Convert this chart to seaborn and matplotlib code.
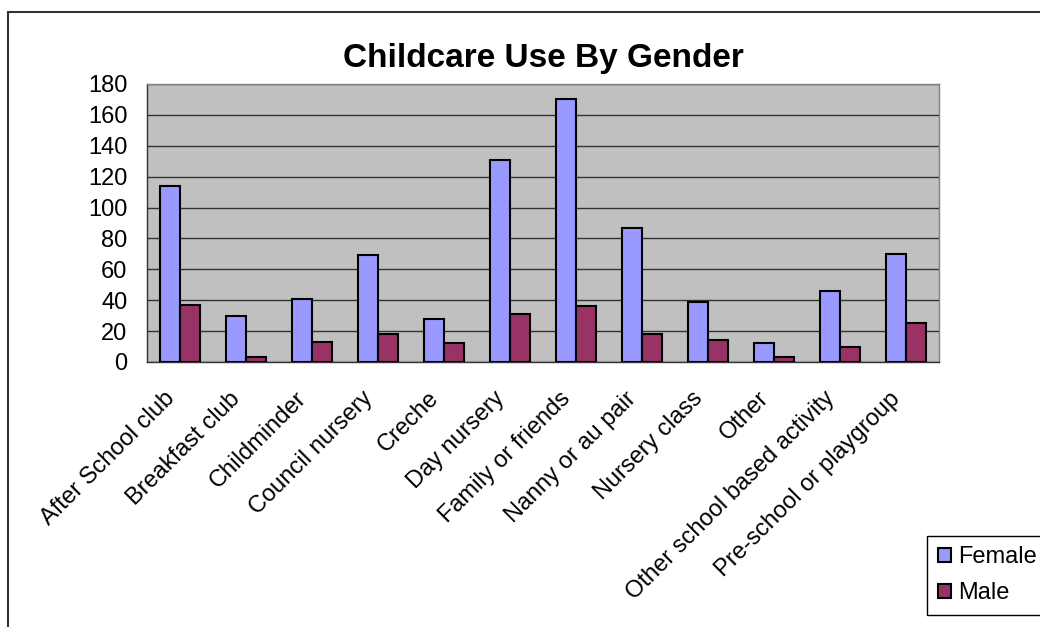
import matplotlib
matplotlib.use("Agg")
import matplotlib.pyplot as plt
import matplotlib.transforms as mtransforms
import seaborn as sns
import pandas as pd
from matplotlib.patches import Rectangle
from matplotlib.ticker import FixedLocator

categories = [
    "After School club", "Breakfast club", "Childminder", "Council nursery",
    "Creche", "Day nursery", "Family or friends", "Nanny or au pair",
    "Nursery class", "Other", "Other school based activity",
    "Pre-school or playgroup",
]
female = [114, 30, 41, 69, 28, 131, 170, 87, 39, 12, 46, 70]
male = [37, 3, 13, 18, 12, 31, 36, 18, 14, 3, 10, 25]
series = ["Female", "Male"]
colors = ["#9999FF", "#993366"]
y_ticks = list(range(0, 181, 20))

df = pd.DataFrame({
    "category": categories * 2,
    "count": female + male,
    "gender": [series[0]] * len(categories) + [series[1]] * len(categories),
})

sns.set_style("white")
plt.rcParams["font.family"] = ["Liberation Sans", "DejaVu Sans"]
plt.rcParams["text.color"] = "black"

fig = plt.figure(figsize=(10.4, 6.27), dpi=100)
ax = fig.add_axes([147 / 1040, 1 - 362 / 627, 792 / 1040, 278 / 627])
ax.set_facecolor("#C0C0C0")

sns.barplot(
    data=df, x="category", y="count", hue="gender", hue_order=series,
    order=categories, palette=colors, saturation=1, width=0.6,
    edgecolor="black", linewidth=1.5, ax=ax, zorder=3,
)

ax.set_ylim(0, 180)
ax.set_xlim(-0.5, len(categories) - 0.5)
ax.set_yticks(y_ticks)
ax.yaxis.grid(True, color="#333333", linewidth=1.0, zorder=0)
ax.set_axisbelow(True)
ax.set_xlabel("")
ax.set_ylabel("")

for side in ["top", "right"]:
    ax.spines[side].set_color("#808080")
    ax.spines[side].set_linewidth(1.0)
for side in ["left", "bottom"]:
    ax.spines[side].set_color("#333333")
    ax.spines[side].set_linewidth(1.0)

label_size = 17
ax.tick_params(axis="y", which="major", direction="out", length=6,
               width=1, color="#333333", labelsize=label_size,
               labelcolor="black", pad=8)
ax.tick_params(axis="x", which="major", length=0, labelsize=label_size,
               labelcolor="black", pad=24)
ax.xaxis.set_minor_locator(FixedLocator([i - 0.5 for i in range(len(categories) + 1)]))
ax.tick_params(axis="x", which="minor", direction="out", length=6,
               width=1, color="#333333")
ax.set_xticks(range(len(categories)))
ax.set_xticklabels(categories, rotation=45, ha="right", va="center",
                   rotation_mode="anchor")
shift = mtransforms.ScaledTranslation(-9 / 100, 0, fig.dpi_scale_trans)
for lbl in ax.get_xticklabels():
    lbl.set_transform(lbl.get_transform() + shift)

ax.set_title("Childcare Use By Gender", fontsize=24, fontweight="bold",
             color="black", pad=12)

leg = ax.get_legend()
if leg is not None:
    leg.remove()
handles = [Rectangle((0, 0), 1, 1, facecolor=c, edgecolor="black", linewidth=1.5)
           for c in colors]
fig.legend(
    handles, series, loc="lower left",
    bbox_to_anchor=(927 / 1040, 1 - 615 / 627), fontsize=label_size,
    frameon=True, fancybox=False, edgecolor="black", framealpha=1,
    handlelength=0.55, handleheight=0.55, handletextpad=0.3,
    borderpad=0.45, labelspacing=0.6, borderaxespad=0,
)

# Outer chart border
fig.patches.append(Rectangle((8 / 1040, -0.05), 1.1, 1 - 12 / 627 + 0.05,
                             transform=fig.transFigure, fill=False,
                             edgecolor="#333333", linewidth=1.5))

fig.savefig("out.png", dpi=100, facecolor="white")
